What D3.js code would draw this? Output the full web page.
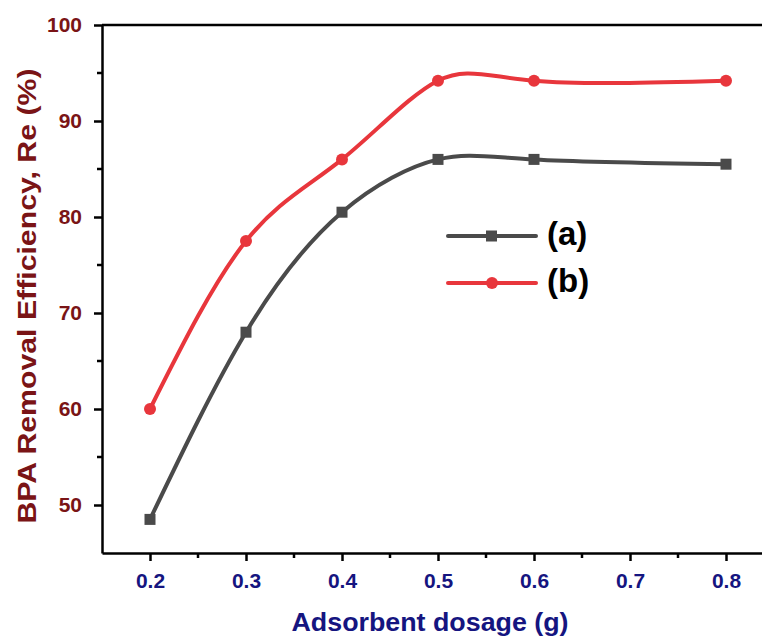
<!DOCTYPE html>
<html>
<head>
<meta charset="utf-8">
<script src="https://cdn.jsdelivr.net/npm/d3@7"></script>
<style>
  body { margin: 0; background: #fff; }
  text { font-family: "Liberation Sans", Arial, sans-serif; font-weight: bold; }
</style>
</head>
<body>
<div id="chart"></div>
<script>
var dosage = [0.2, 0.3, 0.4, 0.5, 0.6, 0.8];
var seriesA = [48.5, 68, 80.5, 86, 86, 85.5];
var seriesB = [60, 77.5, 86, 94.2, 94.2, 94.2];
var xTicks = [0.2, 0.3, 0.4, 0.5, 0.6, 0.7, 0.8];
var xMinor = [0.25, 0.35, 0.45, 0.55, 0.65, 0.75];
var yTicks = [50, 60, 70, 80, 90, 100];
var yMinor = [55, 65, 75, 85, 95];

var width = 762, height = 637;

var svg = d3.select('#chart')
    .append('svg')
    .attr('width', width)
    .attr('height', height);

var x = d3.scaleLinear().domain([0.15, 0.85]).range([102, 774]);
var y = d3.scaleLinear().domain([45, 100]).range([553, 25]);

// top frame line
svg.append('line').attr('x1', 102).attr('x2', width).attr('y1', 25).attr('y2', 25)
    .attr('stroke', '#000').attr('stroke-width', 2.5);

// minor ticks
svg.selectAll('.xminor').data(xMinor).enter().append('line')
    .attr('x1', function (d) { return x(d); }).attr('x2', function (d) { return x(d); })
    .attr('y1', 553).attr('y2', 558).attr('stroke', '#000').attr('stroke-width', 2.5);
svg.selectAll('.yminor').data(yMinor).enter().append('line')
    .attr('x1', 97).attr('x2', 102)
    .attr('y1', function (d) { return y(d); }).attr('y2', function (d) { return y(d); })
    .attr('stroke', '#000').attr('stroke-width', 2.5);

var xAxis = svg.append('g').attr('transform', 'translate(0,553)')
    .call(d3.axisBottom(x).tickValues(xTicks).tickSize(8).tickSizeOuter(0).tickPadding(12)
        .tickFormat(d3.format('.1f')));
var yAxis = svg.append('g').attr('transform', 'translate(102,0)')
    .call(d3.axisLeft(y).tickValues(yTicks).tickSize(8).tickSizeOuter(0).tickPadding(12));

[xAxis, yAxis].forEach(function (g) {
    g.attr('font-size', null).attr('font-family', null);
    g.select('.domain').attr('stroke', '#000').attr('stroke-width', 2.5);
    g.selectAll('.tick line').attr('stroke', '#000').attr('stroke-width', 2.5);
    g.selectAll('.tick text').style('font-size', '21px');
});
xAxis.selectAll('.tick text').attr('fill', '#151580');
yAxis.selectAll('.tick text').attr('fill', '#7a1416');

// axis titles
svg.append('text').attr('x', 430).attr('y', 631).attr('text-anchor', 'middle')
    .attr('fill', '#151580').style('font-size', '26px')
    .attr('textLength', 277).attr('lengthAdjust', 'spacingAndGlyphs')
    .text('Adsorbent dosage (g)');
svg.append('text').attr('transform', 'translate(36,296) rotate(-90)').attr('text-anchor', 'middle')
    .attr('fill', '#7a1416').style('font-size', '26px')
    .attr('textLength', 455).attr('lengthAdjust', 'spacingAndGlyphs')
    .text('BPA Removal Efficiency, Re (%)');

var colorA = '#4a4a4a', colorB = '#e8363c';

function drawSeries(vals, color, shape) {
    var pts = dosage.map(function (d, i) { return [d, vals[i]]; });
    var line = d3.line()
        .x(function (d) { return x(d[0]); })
        .y(function (d) { return y(d[1]); })
        .curve(d3.curveNatural);
    svg.append('path').datum(pts)
        .attr('fill', 'none').attr('stroke', color).attr('stroke-width', 4)
        .attr('d', line);
    if (shape === 'square') {
        svg.selectAll(null).data(pts).enter().append('rect')
            .attr('x', function (d) { return x(d[0]) - 5.5; })
            .attr('y', function (d) { return y(d[1]) - 5.5; })
            .attr('width', 11).attr('height', 11).attr('fill', color);
    } else {
        svg.selectAll(null).data(pts).enter().append('circle')
            .attr('cx', function (d) { return x(d[0]); })
            .attr('cy', function (d) { return y(d[1]); })
            .attr('r', 6).attr('fill', color);
    }
}
drawSeries(seriesA, colorA, 'square');
drawSeries(seriesB, colorB, 'circle');

// legend
var legend = [
    { label: '(a)', color: colorA, shape: 'square', y: 236 },
    { label: '(b)', color: colorB, shape: 'circle', y: 283 }
];
legend.forEach(function (l) {
    svg.append('line').attr('x1', 448).attr('x2', 536).attr('y1', l.y).attr('y2', l.y)
        .attr('stroke', l.color).attr('stroke-width', 4).attr('stroke-linecap', 'round');
    if (l.shape === 'square') {
        svg.append('rect').attr('x', 486).attr('y', l.y - 5.5).attr('width', 11).attr('height', 11).attr('fill', l.color);
    } else {
        svg.append('circle').attr('cx', 492).attr('cy', l.y).attr('r', 6).attr('fill', l.color);
    }
    svg.append('text').attr('x', 547).attr('y', l.y + 9).attr('fill', '#000')
        .style('font-size', '33px').text(l.label);
});
</script>
</body>
</html>
